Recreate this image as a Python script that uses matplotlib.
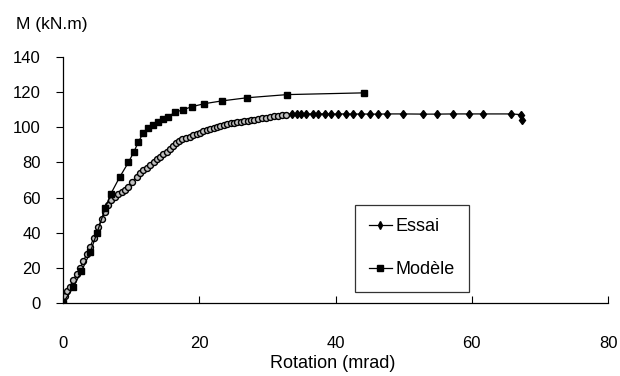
import matplotlib.pyplot as plt
from matplotlib.lines import Line2D

plt.rcParams['font.family'] = ['Liberation Sans', 'DejaVu Sans']

# Modele curve (upper, squares)
modele_x = [0, 1.5, 2.7, 4.0, 5.0, 6.2, 7.0, 8.3, 9.6, 10.4, 11.05, 11.8, 12.5, 13.25,
            14.0, 14.7, 15.45, 16.4, 17.65, 18.9, 20.7, 23.3, 27.0, 32.9, 44.2]
modele_y = [0, 9, 18, 29, 40, 54, 62, 71.5, 80, 86, 91.5, 97, 99.5, 101.5,
            103, 104.5, 106, 108.5, 110, 111.7, 113.4, 115, 116.8, 118.6, 119.6]

# Essai curve (lower, dense readings then plateau)
essai_x = [0, 0.3, 0.6, 1.0, 1.5, 2.0, 2.5, 3.0, 3.5, 4.0, 4.5, 5.2, 5.7, 6.2, 6.6, 7.1,
           7.6, 8.1, 8.6, 9.1, 9.6, 10.1, 10.8, 11.3, 11.8, 12.3, 12.8, 13.3, 13.8, 14.2,
           14.7, 15.2, 15.7, 16.2, 16.6, 17.0, 17.5, 18.0, 18.6, 19.1, 19.6, 20.1, 20.6,
           21.1, 21.6, 22.1, 22.6, 23.1, 23.6, 24.1, 24.6, 25.1, 25.6, 26.1, 26.6, 27.1,
           27.6, 28.1, 28.6, 29.2, 29.8, 30.4, 31.0, 31.6, 32.2, 32.8,
           33.6, 34.3, 35.0, 35.7, 36.7, 37.4, 38.4, 39.4, 40.4, 41.6, 42.6, 43.8, 45.1,
           46.3, 47.5, 49.9, 52.9, 54.9, 57.3, 59.6, 61.7, 65.8, 67.3, 67.4]
essai_y = [0, 4, 7, 9.3, 13, 16.5, 19.7, 24, 28, 32, 37, 43.4, 48, 52, 55.5, 58.6,
           60.5, 62, 63.3, 64.5, 66.2, 69, 71.9, 73.8, 75.5, 77, 78.5, 80.2, 81.8, 83.3,
           85, 86.2, 87.5, 89.5, 91, 92.2, 93.2, 94, 94.7, 95.5, 96.2, 97, 97.8,
           98.5, 99.2, 99.8, 100.4, 101, 101.4, 101.8, 102.2, 102.6, 102.9, 103.2, 103.5, 103.8,
           104.1, 104.4, 104.7, 105.1, 105.5, 105.9, 106.3, 106.6, 106.9, 107.2,
           107.6, 107.6, 107.6, 107.6, 107.6, 107.6, 107.6, 107.5, 107.6, 107.6, 107.5, 107.6, 107.5,
           107.5, 107.6, 107.6, 107.5, 107.5, 107.6, 107.6, 107.6, 107.6, 107.2, 104.0]
n_dense = 66  # readings drawn as open circles, the rest as diamonds

x_ticks = [0, 20, 40, 60, 80]
y_ticks = [0, 20, 40, 60, 80, 100, 120, 140]

fig = plt.figure(figsize=(6.2, 3.76), dpi=100)
ax = fig.add_axes([63 / 620, 1 - 303 / 376, 545 / 620, 246 / 376])

ax.plot(essai_x, essai_y, color='black', lw=0.9)
ax.plot(essai_x[:n_dense], essai_y[:n_dense], ls='none', marker='o', ms=4.3,
        mfc='0.75', mec='black', mew=1.0)
ax.plot(essai_x[n_dense:], essai_y[n_dense:], ls='none', marker='d', ms=4.5,
        mfc='black', mec='black')
ax.plot(modele_x, modele_y, color='black', lw=0.9, marker='s', ms=3.8,
        mfc='black', mec='black')

ax.set_xlim(0, 80)
ax.set_ylim(0, 140)
ax.set_xticks(x_ticks)
ax.set_yticks(y_ticks)
for s in ['top', 'right']:
    ax.spines[s].set_visible(False)
for s in ['left', 'bottom']:
    ax.spines[s].set_linewidth(0.9)
ax.tick_params(axis='x', direction='in', length=5, pad=24, labelsize=12)
ax.tick_params(axis='y', direction='out', length=5, pad=11, labelsize=12)

fig.text(16 / 620, 1 - 25 / 376, 'M (kN.m)', fontsize=12.5, va='center', ha='left')
fig.text(333 / 620, 1 - 364 / 376, 'Rotation (mrad)', fontsize=13, va='center', ha='center')

handles = [
    Line2D([], [], color='black', lw=0.9, marker='d', ms=4),
    Line2D([], [], color='black', lw=0.9, marker='s', ms=4),
]
leg = ax.legend(handles, ['Essai', 'Modèle'], loc='lower left',
                bbox_to_anchor=(0.536, 0.045), fontsize=13, frameon=True,
                fancybox=False, edgecolor='black', handlelength=1.3,
                handletextpad=0.2, labelspacing=1.45, borderpad=0.75,
                borderaxespad=0)
leg.get_frame().set_linewidth(0.9)

fig.savefig('out.png', dpi=100)
